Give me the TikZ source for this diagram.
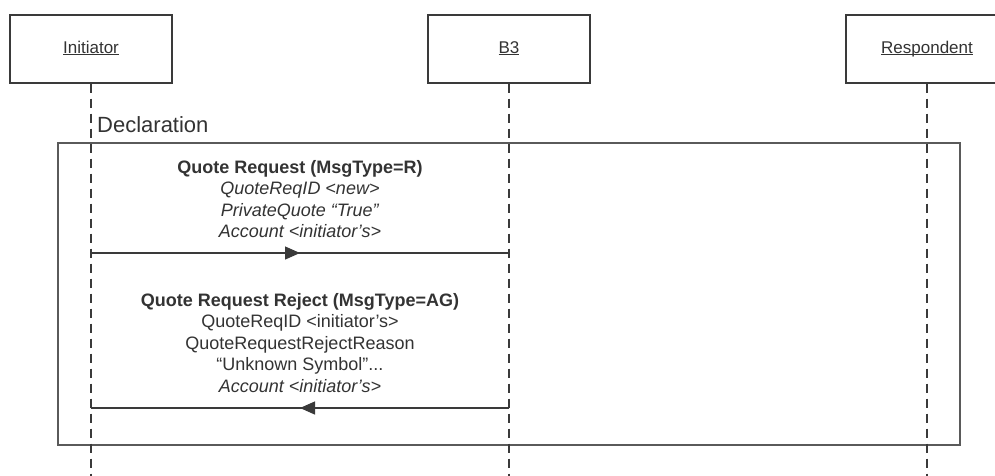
\documentclass[tikz,border=0pt]{standalone}
\usepackage{fontspec}
\setmainfont{Liberation Sans}
\usetikzlibrary{arrows.meta,decorations.markings}
\definecolor{textc}{HTML}{333333}
\definecolor{linec}{HTML}{3A3A3A}
\definecolor{framec}{HTML}{5A5A5A}
\newcommand\ulname[1]{\underline{\smash{#1}}}
\begin{document}
\begin{tikzpicture}[x=1pt,y=-1pt,
  actor/.style={draw=linec, line width=1.3pt, fill=white, minimum width=162pt,
    minimum height=68pt, inner sep=0pt, text=textc, text height=12pt, text depth=4pt,
    font=\fontsize{17}{20}\selectfont},
  lifeline/.style={draw=linec, line width=1.4pt, dash pattern=on 9pt off 6pt},
  framebox/.style={draw=framec, line width=2pt, minimum width=902pt, minimum height=302pt, inner sep=0pt},
  msg/.style={draw=linec, line width=1.3pt, postaction={decorate},
    decoration={markings, mark=at position 0.5 with {\arrow{Triangle[length=15pt,width=13pt]}}}},
  msgtext/.style={align=center, text=textc, inner sep=0pt, font=\fontsize{18}{21.5}\selectfont},
  decl/.style={anchor=base west, text=textc, inner sep=0pt, font=\fontsize{22}{26}\selectfont}
]
\useasboundingbox (0,0) rectangle (995,475);
\clip (0,0) rectangle (995,475);
\fill[white] (0,0) rectangle (995,475);

% frame
\node[framebox] (frame) at (509,293.5) {};
\node[decl] (decltext) at (97,132) {Declaration};

% lifeline end points
\coordinate (initEnd) at (91,476);
\coordinate (b3End) at (509,476);
\coordinate (respEnd) at (927,476);

% actors
\node[actor] (init) at (91,49) {\ulname{Initiator}};
\node[actor] (b3) at (509,49) {\ulname{B3}};
\node[actor] (resp) at (927,49) {\ulname{Respondent}};

\draw[lifeline] (init.south) -- (initEnd);
\draw[lifeline] (b3.south) -- (b3End);
\draw[lifeline] (resp.south) -- (respEnd);

% messages
\coordinate (m1s) at (91,253);
\coordinate (m1e) at (509,253);
\coordinate (m2s) at (509,408);
\coordinate (m2e) at (91,408);
\draw[msg] (m1s) -- (m1e);
\draw[msg] (m2s) -- (m2e);

\node[msgtext] (t1) at (300,199) {\textbf{Quote Request (MsgType=R)}\\
  \textit{QuoteReqID <new>}\\
  \textit{PrivateQuote “True”}\\
  \textit{Account <initiator’s>}};
\node[msgtext] (t2) at (300,343) {\textbf{Quote Request Reject (MsgType=AG)}\\
  QuoteReqID <initiator’s>\\
  QuoteRequestRejectReason\\
  “Unknown Symbol”...\\
  \textit{Account <initiator’s>}};
\end{tikzpicture}
\end{document}
